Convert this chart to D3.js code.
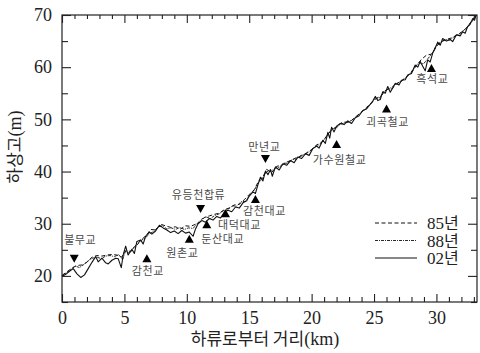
<!DOCTYPE html>
<html>
<head>
<meta charset="utf-8">
<script src="https://cdn.jsdelivr.net/npm/d3@7"></script>
<style>
  body { margin: 0; background: #fff; }
  .tick text { font-family: "Liberation Serif", serif; font-size: 18px; fill: #222; }
  .kr { font-family: "Noto Sans CJK KR", sans-serif; }
  .num { font-family: "Liberation Serif", serif; }
</style>
</head>
<body>
<div id="chart"></div>
<script>
// river bed profiles [distance km, elevation m]
var profile85 = [[0,20.1],[0.4,20.8],[0.8,21.5],[1.2,22.0],[1.6,22.1],[2.0,22.6],[2.4,23.6],[2.8,23.9],[3.2,23.8],[3.6,24.0],[4.0,24.1],[4.4,24.0],[4.8,23.6],[5.0,24.6],[5.2,25.0],[5.5,24.6],[5.8,25.6],[6.1,26.3],[6.4,27.0],[6.8,27.9],[7.1,28.9],[7.5,28.8],[7.9,29.9],[8.3,29.6],[8.7,29.3],[9.1,29.4],[9.5,29.0],[9.9,29.6],[10.3,29.5],[10.7,29.9],[11.0,30.2],[11.4,31.2],[11.8,31.5],[12.2,31.8],[12.6,32.0],[13.0,32.7],[13.4,33.0],[13.8,33.6],[14.2,33.7],[14.6,34.6],[15.0,35.6],[15.4,36.5],[15.8,38.4],[16.1,39.0],[16.4,40.4],[16.8,39.8],[17.2,41.0],[17.6,41.2],[18.0,41.8],[18.4,42.2],[18.8,42.7],[19.2,43.0],[19.6,43.6],[20.0,44.2],[20.4,45.1],[20.8,45.6],[21.2,46.8],[21.6,48.0],[22.0,48.6],[22.4,49.4],[22.8,49.5],[23.2,49.8],[23.6,50.6],[24.0,51.4],[24.4,52.3],[24.8,53.2],[25.2,54.0],[25.6,54.6],[26.0,55.7],[26.4,55.8],[26.8,56.8],[27.2,57.3],[27.6,58.2],[28.0,59.0],[28.4,60.3],[28.8,61.5],[29.2,62.3],[29.6,62.5],[30.0,64.0],[30.4,64.9],[30.8,65.3],[31.2,65.6],[31.6,66.1],[32.0,66.7],[32.4,67.5],[32.8,68.8],[33.2,70.1]];

var profile88 = [[0,20.0],[0.35,20.6],[0.7,21.2],[1.05,21.9],[1.4,21.6],[1.75,22.2],[2.1,22.9],[2.45,23.4],[2.8,23.6],[3.15,23.3],[3.5,23.8],[3.85,23.9],[4.2,23.7],[4.55,24.1],[4.85,23.1],[5.1,24.8],[5.35,24.4],[5.7,25.3],[6.0,25.9],[6.35,26.8],[6.7,27.3],[7.0,28.1],[7.35,28.5],[7.7,29.4],[8.05,29.6],[8.4,29.0],[8.75,29.2],[9.1,28.9],[9.45,29.3],[9.8,28.9],[10.15,29.2],[10.5,29.1],[10.85,30.1],[11.2,30.9],[11.55,31.3],[11.9,31.0],[12.25,31.6],[12.6,31.9],[12.95,32.5],[13.3,32.8],[13.65,33.4],[14.0,33.4],[14.35,34.2],[14.7,34.3],[15.05,35.5],[15.4,36.4],[15.75,37.9],[16.05,38.6],[16.35,40.0],[16.7,40.0],[17.05,40.6],[17.4,40.8],[17.75,41.6],[18.1,41.6],[18.45,42.3],[18.8,42.4],[19.15,43.1],[19.5,43.3],[19.85,43.9],[20.2,44.6],[20.55,45.1],[20.9,45.8],[21.25,46.9],[21.6,48.2],[21.95,48.3],[22.3,49.1],[22.65,49.3],[23.0,49.5],[23.35,50.1],[23.7,50.8],[24.05,51.5],[24.4,52.1],[24.75,53.0],[25.1,54.1],[25.45,54.1],[25.8,55.4],[26.15,55.8],[26.5,56.3],[26.85,56.9],[27.2,57.4],[27.55,58.0],[27.9,58.8],[28.25,60.0],[28.6,60.9],[28.95,60.6],[29.3,61.6],[29.65,62.6],[30.0,64.3],[30.35,64.8],[30.7,65.3],[31.05,65.2],[31.4,65.8],[31.75,66.2],[32.1,66.9],[32.45,67.6],[32.8,68.6],[33.2,70.0]];

var profile02 = [[0,19.9],[0.3,20.3],[0.6,20.9],[0.9,21.4],[1.2,20.4],[1.5,19.7],[1.8,20.2],[2.1,21.4],[2.4,22.6],[2.7,23.7],[2.9,22.7],[3.2,23.4],[3.5,22.5],[3.7,22.3],[4.0,23.0],[4.3,23.4],[4.5,23.3],[4.75,21.6],[4.9,24.0],[5.1,25.7],[5.3,24.0],[5.6,25.1],[5.8,24.3],[6.0,26.6],[6.3,26.9],[6.5,26.1],[6.7,27.6],[7.0,28.4],[7.2,28.0],[7.5,28.6],[7.8,29.7],[8.1,29.2],[8.4,28.8],[8.7,28.3],[9.0,28.6],[9.3,28.1],[9.6,28.7],[9.9,28.2],[10.2,28.4],[10.5,27.6],[10.7,29.0],[10.9,30.0],[11.2,30.6],[11.5,30.3],[11.8,31.0],[12.1,30.7],[12.4,31.4],[12.7,31.1],[13.0,32.2],[13.3,32.6],[13.6,32.3],[13.9,33.2],[14.2,33.0],[14.5,34.0],[14.8,34.4],[15.0,35.3],[15.3,36.1],[15.5,35.8],[15.7,37.5],[15.9,38.9],[16.1,38.2],[16.3,40.1],[16.5,39.4],[16.7,40.4],[16.85,39.1],[17.1,40.9],[17.4,40.3],[17.7,41.5],[18.0,41.2],[18.3,42.1],[18.6,41.7],[18.9,42.8],[19.2,42.5],[19.5,43.4],[19.8,43.1],[20.1,44.4],[20.4,44.9],[20.6,44.5],[20.9,46.0],[21.1,45.4],[21.3,47.5],[21.45,46.4],[21.6,48.5],[21.8,47.6],[22.0,48.7],[22.3,49.2],[22.6,49.0],[22.9,49.7],[23.2,49.2],[23.5,50.3],[23.8,50.7],[24.1,51.7],[24.4,52.0],[24.7,52.9],[24.9,53.5],[25.1,54.4],[25.3,53.6],[25.5,53.8],[25.7,55.3],[25.9,55.0],[26.1,56.3],[26.3,55.2],[26.5,56.0],[26.7,56.9],[27.0,56.6],[27.2,57.5],[27.5,57.6],[27.7,58.5],[28.0,58.8],[28.3,60.4],[28.5,60.0],[28.7,61.1],[28.9,60.2],[29.1,59.3],[29.3,61.4],[29.5,61.0],[29.7,62.7],[29.9,63.6],[30.1,64.8],[30.3,64.2],[30.5,65.5],[30.8,65.0],[31.1,65.3],[31.3,64.9],[31.6,66.2],[31.9,66.0],[32.1,66.8],[32.3,66.5],[32.5,67.8],[32.7,68.2],[32.9,69.3],[33.05,69.0],[33.2,70.2]];

// bridges along the river
var bridgeNames = ["불무교", "감천교", "원촌교", "유등천합류", "둔산대교", "대덕대교", "감천대교", "만년교", "가수원철교", "괴곡철교", "흑석교"];
var bridgeKm = [0.98, 6.8, 10.2, 11.1, 11.6, 13.1, 15.5, 16.3, 22.0, 26.0, 29.6];
var bridgeLevel = [23.3, 23.4, 27.1, 32.8, 29.9, 32.0, 34.75, 42.4, 45.3, 52.1, 59.85];
var bridgeMark = ["down", "up", "up", "down", "up", "up", "up", "down", "up", "up", "up"];

var seriesNames = ["85", "88", "02"];
var xTicks = [0, 5, 10, 15, 20, 25, 30];
var yTicks = [20, 30, 40, 50, 60, 70];

var svgWidth = 480;
var svgHeight = 353;
var margin = { top: 15, right: 3, bottom: 51, left: 62 };
var width = svgWidth - margin.left - margin.right;
var height = svgHeight - margin.top - margin.bottom;

var svg = d3.select("#chart")
  .append("svg")
  .attr("width", svgWidth)
  .attr("height", svgHeight);

var chartGroup = svg.append("g")
  .attr("transform", `translate(${margin.left}, ${margin.top})`);

var xScale = d3.scaleLinear().domain([0, 33.25]).range([0, width]);
var yScale = d3.scaleLinear().domain([15, 70]).range([height, 0]);

// clip for profiles
chartGroup.append("clipPath").attr("id", "clip")
  .append("rect").attr("width", width).attr("height", height);

var line = d3.line()
  .x(d => xScale(d[0]))
  .y(d => yScale(d[1]));

var lineStyles = {
  "85": { dash: "4,2.5", w: 1 },
  "88": { dash: "3,1,1,1", w: 0.9 },
  "02": { dash: null, w: 1.1 }
};

var profiles = { "85": profile85, "88": profile88, "02": profile02 };

seriesNames.forEach(function(s) {
  chartGroup.append("path")
    .datum(profiles[s])
    .attr("clip-path", "url(#clip)")
    .attr("fill", "none")
    .attr("stroke", "#111")
    .attr("stroke-width", lineStyles[s].w)
    .attr("stroke-dasharray", lineStyles[s].dash)
    .attr("stroke-linejoin", "round")
    .attr("d", line);
});

// axes - ticks point inward
var xMinor = [1, 2, 3, 4, 6, 7, 8, 9, 11, 12, 13, 14, 16, 17, 18, 19, 21, 22, 23, 24, 26, 27, 28, 29, 31, 32, 33];
var yMinor = [15, 25, 35, 45, 55, 65];

function drawAxis(axis, transform) {
  var g = chartGroup.append("g").attr("transform", transform).call(axis);
  g.attr("font-family", "Liberation Serif").attr("font-size", 18);
  g.select(".domain").remove();
  g.selectAll(".tick line").attr("stroke", "#222").attr("stroke-width", 1.1);
  return g;
}

drawAxis(d3.axisBottom(xScale).tickValues(xTicks).tickSize(-8).tickPadding(9).tickFormat(d3.format("d")), `translate(0, ${height})`);
drawAxis(d3.axisBottom(xScale).tickValues(xMinor).tickSize(-5).tickFormat(""), `translate(0, ${height})`);
drawAxis(d3.axisTop(xScale).tickValues(xTicks).tickSize(-8).tickFormat(""), "translate(0, 0)");
drawAxis(d3.axisTop(xScale).tickValues(xMinor).tickSize(-4).tickFormat(""), "translate(0, 0)");
drawAxis(d3.axisLeft(yScale).tickValues(yTicks).tickSize(-9).tickPadding(10).tickFormat(d3.format("d")), "translate(0, 0)");
drawAxis(d3.axisLeft(yScale).tickValues(yMinor).tickSize(-6).tickFormat(""), "translate(0, 0)");
drawAxis(d3.axisRight(yScale).tickValues(yTicks).tickSize(-9).tickFormat(""), `translate(${width}, 0)`);
drawAxis(d3.axisRight(yScale).tickValues(yMinor).tickSize(-6).tickFormat(""), `translate(${width}, 0)`);

chartGroup.append("rect")
  .attr("width", width)
  .attr("height", height)
  .attr("fill", "none")
  .attr("stroke", "#222")
  .attr("stroke-width", 1.2);

// bridge markers and names
var labelOffset = [[6, -19], [1, 13], [-7, 14], [-2, -14], [16, 14.5], [14, 11.5], [9, 12], [-1, -12], [3, 16], [1, 13.5], [1, 11]];

bridgeNames.forEach(function(name, i) {
  var bx = xScale(bridgeKm[i]);
  var by = yScale(bridgeLevel[i]);
  var tri = bridgeMark[i] === "up" ? "M0,-4L4.5,4L-4.5,4Z" : "M0,4L4.5,-4L-4.5,-4Z";
  chartGroup.append("path")
    .attr("transform", `translate(${bx}, ${by})`)
    .attr("d", tri)
    .attr("fill", "#000");
  chartGroup.append("text")
    .attr("class", "kr")
    .attr("x", bx + labelOffset[i][0])
    .attr("y", by + labelOffset[i][1])
    .attr("dy", "0.35em")
    .attr("text-anchor", "middle")
    .attr("font-size", "11px")
    .attr("letter-spacing", "0.6px")
    .attr("fill", "#4a4a4a")
    .text(name);
});

// legend
var legend = chartGroup.append("g").attr("transform", `translate(${375 - margin.left}, ${223 - margin.top})`);
seriesNames.forEach(function(s, i) {
  var row = legend.append("g").attr("transform", `translate(0, ${i * 17.5})`);
  row.append("line")
    .attr("x1", 0).attr("x2", 42)
    .attr("stroke", "#111")
    .attr("stroke-width", lineStyles[s].w)
    .attr("stroke-dasharray", lineStyles[s].dash);
  var t = row.append("text").attr("x", 52).attr("y", 6).attr("font-size", "16px").attr("fill", "#222");
  t.append("tspan").attr("class", "num").attr("font-size", "17px").text(s);
  t.append("tspan").attr("class", "kr").text("년");
});

// axis titles
var xLabel = svg.append("text")
  .attr("x", 265)
  .attr("y", 345)
  .attr("text-anchor", "middle")
  .attr("font-size", "17px")
  .attr("fill", "#222");
xLabel.append("tspan").attr("class", "kr").text("하류로부터 거리");
xLabel.append("tspan").attr("class", "num").attr("font-size", "18px").text("(km)");

var yLabel = svg.append("text")
  .attr("transform", "translate(21, 147) rotate(-90)")
  .attr("text-anchor", "middle")
  .attr("font-size", "17px")
  .attr("fill", "#222");
yLabel.append("tspan").attr("class", "kr").text("하상고");
yLabel.append("tspan").attr("class", "num").attr("font-size", "18px").text("(m)");
</script>
</body>
</html>
